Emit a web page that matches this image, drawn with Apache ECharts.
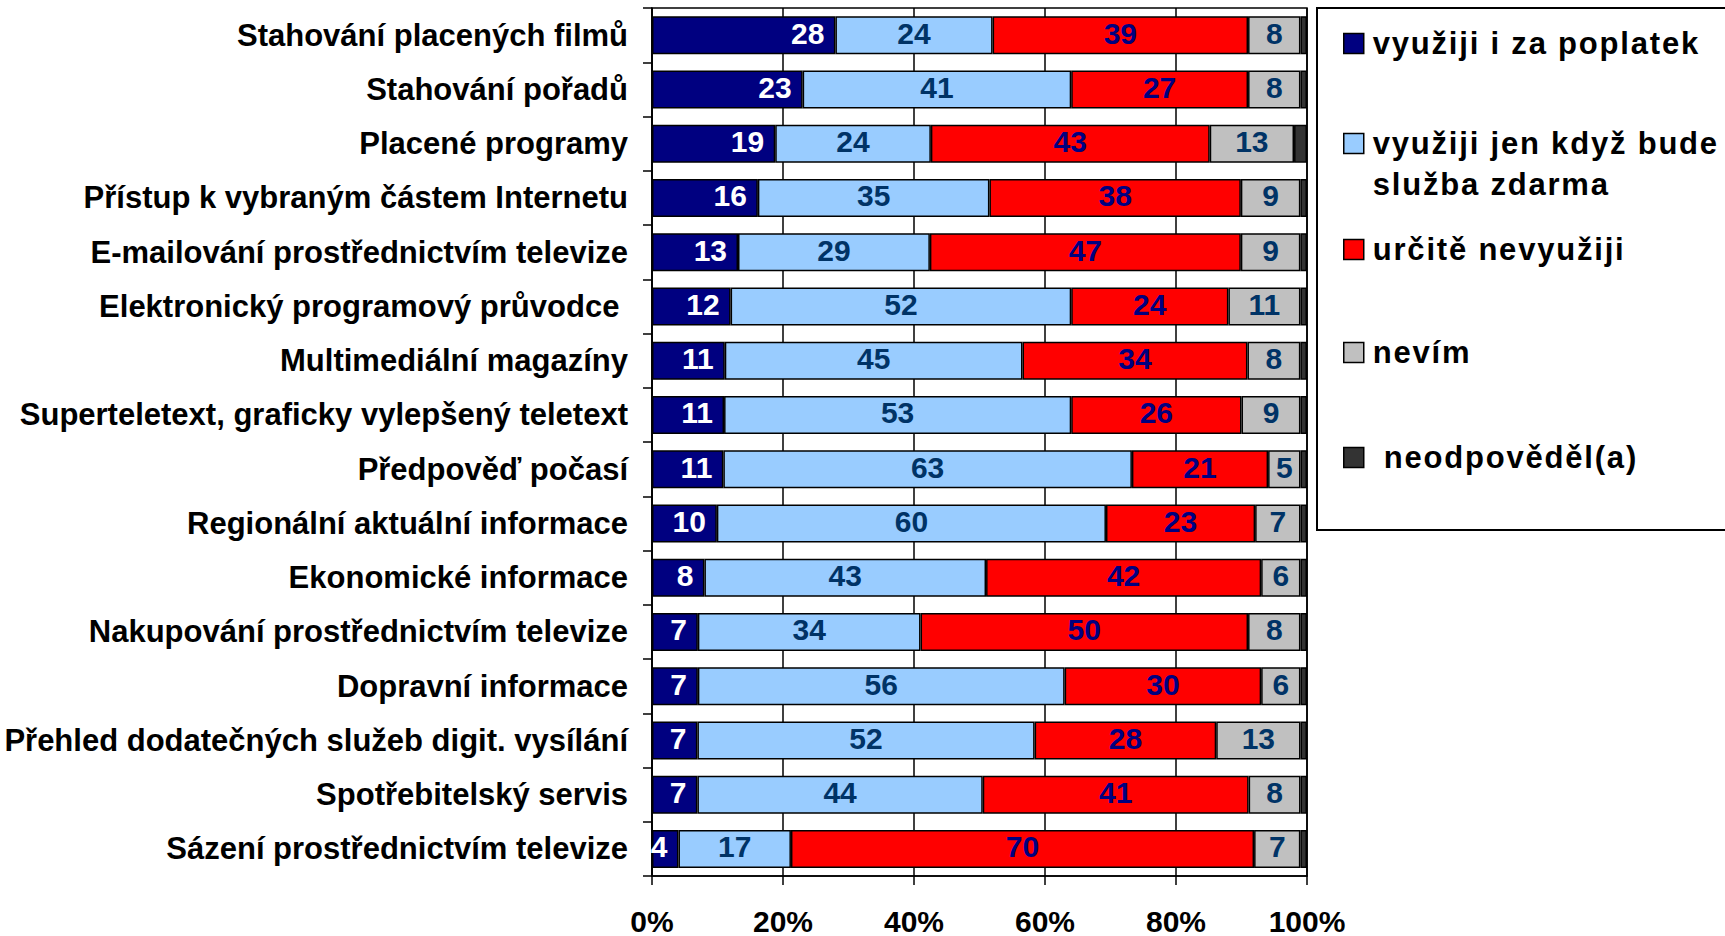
<!DOCTYPE html>
<html>
<head>
<meta charset="utf-8">
<script src="https://cdn.jsdelivr.net/npm/echarts@6/dist/echarts.min.js"></script>
<style>
  html, body { margin: 0; padding: 0; background: #fff; }
  #main { width: 1725px; height: 936px; }
</style>
</head>
<body>
<div id="main"></div>
<script>
// kategorie (shora dolu)
var categories = [
  "Stahování placených filmů",
  "Stahování pořadů",
  "Placené programy",
  "Přístup k vybraným částem Internetu",
  "E-mailování prostřednictvím televize",
  "Elektronický programový průvodce ",
  "Multimediální magazíny",
  "Superteletext, graficky vylepšený teletext",
  "Předpověď počasí",
  "Regionální aktuální informace",
  "Ekonomické informace",
  "Nakupování prostřednictvím televize",
  "Dopravní informace",
  "Přehled dodatečných služeb digit. vysílání",
  "Spotřebitelský servis",
  "Sázení prostřednictvím televize"
];
var paid     = [28, 23, 19, 16, 13, 12, 11, 11, 11, 10, 8, 7, 7, 7, 7, 4];
var free     = [24, 41, 24, 35, 29, 52, 45, 53, 63, 60, 43, 34, 56, 52, 44, 17];
var never    = [39, 27, 43, 38, 47, 24, 34, 26, 21, 23, 42, 50, 30, 28, 41, 70];
var dontKnow = [8, 8, 13, 9, 9, 11, 8, 9, 5, 7, 6, 8, 6, 13, 8, 7];
var noAnswer = [1, 1, 2, 1, 1, 1, 1, 1, 1, 1, 1, 1, 1, 1, 1, 1];

var seriesNames = [
  "využiji i za poplatek",
  "využiji jen když bude služba zdarma",
  "určitě nevyužiji",
  "nevím",
  "neodpověděl(a)"
];
var xTicks = [0, 20, 40, 60, 80, 100];

var raw = [paid, free, never, dontKnow, noAnswer];
var colors = ["#000080", "#99CCFF", "#FF0000", "#C0C0C0", "#333333"];
var labelColors = ["#FFFFFF", "#003366", "#000080", "#003366", null];
var font = "Liberation Sans";

// 100% skladani - kazdy radek prepocitat na procenta
var totals = categories.map(function (c, i) {
  return raw.reduce(function (s, arr) { return s + arr[i]; }, 0);
});

var series = raw.map(function (arr, k) {
  return {
    name: seriesNames[k],
    type: "bar",
    stack: "all",
    barWidth: 38,
    data: arr.map(function (v, i) { return v / totals[i] * 100; }),
    itemStyle: { color: colors[k], borderColor: "#000", borderWidth: 1.5 },
    label: {
      show: labelColors[k] != null,
      position: k === 0 ? "insideRight" : "inside",
      distance: 11,
      offset: [0, -2],
      color: labelColors[k],
      fontFamily: font,
      fontWeight: "bold",
      fontSize: 30,
      formatter: function (p) { return arr[p.dataIndex]; }
    }
  };
});

// legenda - kazda polozka zvlast kvuli rozestupum
var legendTops = [28, 82, 234, 337, 442];
var legends = seriesNames.map(function (name, k) {
  var ts = { color: "#000", fontFamily: font, fontWeight: "bold", fontSize: 31, padding: [0, 0, 0, 4] };
  if (k === 1) { ts.lineHeight = 41; }
  if (k === 4) { ts.padding = [0, 0, 0, 15]; }
  return {
    data: [name],
    left: 1343,
    top: legendTops[k],
    padding: 0,
    icon: "rect",
    itemWidth: 20,
    itemHeight: 20,
    itemStyle: { borderColor: "#000", borderWidth: 1.5 },
    // prazdny radek nahore, aby prvni radek textu byl u znacky
    formatter: function (n) { return n === seriesNames[1] ? "\nvyužiji jen když bude\nslužba zdarma" : n; },
    textStyle: ts,
    selectedMode: false
  };
});

var myChart = echarts.init(document.getElementById("main"), null, { renderer: "svg" });
myChart.setOption({
  animation: false,
  backgroundColor: "#fff",
  grid: { left: 652, right: 418, top: 8, bottom: 59, show: true, borderColor: "#000", borderWidth: 1.5 },
  legend: legends,
  graphic: [{
    type: "rect",
    shape: { x: 1317, y: 8, width: 430, height: 522 },
    style: { fill: "none", stroke: "#000", lineWidth: 2 },
    z: -1
  }],
  xAxis: {
    type: "value",
    min: xTicks[0],
    max: xTicks[xTicks.length - 1],
    interval: 20,
    axisLine: { show: true, lineStyle: { color: "#000", width: 1.5 } },
    axisTick: { show: true, length: 9, lineStyle: { color: "#000", width: 1.5 } },
    splitLine: { show: true, lineStyle: { color: "#000", width: 1.5 } },
    axisLabel: {
      color: "#000", fontFamily: font, fontWeight: "bold", fontSize: 30, margin: 30,
      formatter: "{value}%"
    }
  },
  yAxis: {
    type: "category",
    inverse: true,
    data: categories,
    axisLine: { show: true, lineStyle: { color: "#000", width: 1.5 } },
    axisTick: { show: true, length: 9, lineStyle: { color: "#000", width: 1.5 } },
    axisLabel: { color: "#000", fontFamily: font, fontWeight: "bold", fontSize: 31, margin: 24 }
  },
  series: series
});

// prostrkani pisma v legende (jako v originale)
var legendLines = ["využiji i za poplatek", "využiji jen když bude", "služba zdarma", "určitě nevyužiji", "nevím", "neodpověděl(a)"];
document.querySelectorAll("#main text").forEach(function (t) {
  if (legendLines.indexOf(t.textContent.trim()) >= 0) t.setAttribute("letter-spacing", "1.8");
});
</script>
</body>
</html>
